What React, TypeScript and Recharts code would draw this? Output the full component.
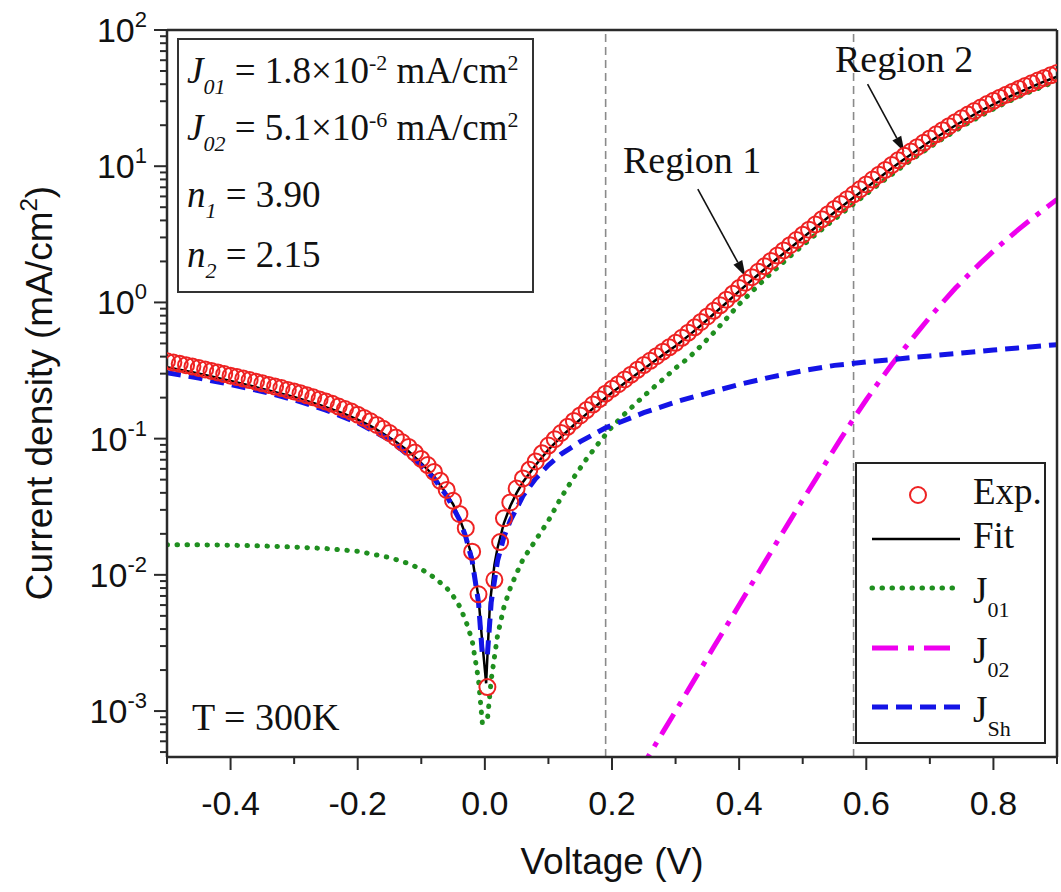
import React from 'react';
import { ComposedChart, Line, XAxis, YAxis, ReferenceLine } from 'recharts';

// measured J-V (circles), |J| in mA/cm2
const expVoltage = [
  -0.5, -0.49, -0.48, -0.47, -0.46, -0.45, -0.44, -0.43, -0.42, -0.41,
  -0.4, -0.39, -0.38, -0.37, -0.36, -0.35, -0.34, -0.33, -0.32, -0.31,
  -0.3, -0.29, -0.28, -0.27, -0.26, -0.25, -0.24, -0.23, -0.22, -0.21,
  -0.2, -0.19, -0.18, -0.17, -0.16, -0.15, -0.14, -0.13, -0.12, -0.11,
  -0.1, -0.09, -0.08, -0.07, -0.06, -0.05, -0.04, -0.03, -0.02, -0.01,
  0.004, 0.015, 0.024,
  0.03, 0.04, 0.05, 0.06, 0.07, 0.08, 0.09,
  0.1, 0.11, 0.12, 0.13, 0.14, 0.15, 0.16, 0.17, 0.18, 0.19,
  0.2, 0.21, 0.22, 0.23, 0.24, 0.25, 0.26, 0.27, 0.28, 0.29,
  0.3, 0.31, 0.32, 0.33, 0.34, 0.35, 0.36, 0.37, 0.38, 0.39,
  0.4, 0.41, 0.42, 0.43, 0.44, 0.45, 0.46, 0.47, 0.48, 0.49,
  0.5, 0.51, 0.52, 0.53, 0.54, 0.55, 0.56, 0.57, 0.58, 0.59,
  0.6, 0.61, 0.62, 0.63, 0.64, 0.65, 0.66, 0.67, 0.68, 0.69,
  0.7, 0.71, 0.72, 0.73, 0.74, 0.75, 0.76, 0.77, 0.78, 0.79,
  0.8, 0.81, 0.82, 0.83, 0.84, 0.85, 0.86, 0.87, 0.88, 0.89, 0.9,
];
const expCurrent = [
  0.37, 0.362, 0.354, 0.346, 0.338, 0.33, 0.322, 0.314, 0.306, 0.298,
  0.29, 0.283, 0.276, 0.269, 0.262, 0.255, 0.248, 0.241, 0.235, 0.228,
  0.222, 0.215, 0.208, 0.201, 0.194, 0.187, 0.18, 0.172, 0.165, 0.158,
  0.15, 0.142, 0.134, 0.126, 0.118, 0.11, 0.102, 0.094, 0.087, 0.079,
  0.071, 0.064, 0.057, 0.049, 0.042, 0.035, 0.028, 0.022, 0.0148, 0.0072,
  0.0015, 0.0092, 0.0174,
  0.026, 0.034, 0.043, 0.051, 0.059, 0.068, 0.078,
  0.089, 0.099, 0.11, 0.122, 0.135, 0.148, 0.162, 0.178, 0.195, 0.214,
  0.232, 0.251, 0.272, 0.295, 0.32, 0.347, 0.373, 0.403, 0.435, 0.468,
  0.505, 0.55, 0.6, 0.656, 0.719, 0.789, 0.867, 0.953, 1.047, 1.156,
  1.274, 1.396, 1.531, 1.679, 1.841, 2.018, 2.208, 2.41, 2.63, 2.871,
  3.133, 3.42, 3.733, 4.074, 4.446, 4.853, 5.272, 5.728, 6.223, 6.761,
  7.345, 7.98, 8.67, 9.397, 10.19, 11.04, 11.91, 12.82, 13.8, 14.86,
  16.0, 17.14, 18.37, 19.68, 21.04, 22.49, 23.93, 25.41, 26.98, 28.58,
  30.2, 31.84, 33.5, 35.24, 36.98, 38.81, 40.64, 42.56, 44.46, 46.45, 48.42,
];

// total fit
const fitVoltage = [
  -0.5, -0.48, -0.46, -0.44, -0.42, -0.4, -0.38, -0.36, -0.34, -0.32, -0.3, -0.28,
  -0.26, -0.24, -0.22, -0.2, -0.18, -0.16, -0.14, -0.12, -0.1, -0.08, -0.06,
  -0.05, -0.04, -0.03, -0.02, -0.01, -0.005, 0.002, 0.008, 0.015, 0.02, 0.03, 0.04, 0.05, 0.06,
  0.08, 0.1, 0.12, 0.14, 0.16, 0.18, 0.2, 0.22, 0.24, 0.26, 0.28, 0.3, 0.32, 0.34, 0.36, 0.38,
  0.4, 0.42, 0.44, 0.46, 0.48, 0.5, 0.52, 0.54, 0.56, 0.58, 0.6, 0.62, 0.64, 0.66, 0.68,
  0.7, 0.72, 0.74, 0.76, 0.78, 0.8, 0.82, 0.84, 0.86, 0.88, 0.9,
];
const fitCurrent = [
  0.335, 0.321, 0.307, 0.293, 0.279, 0.265, 0.252, 0.239, 0.226, 0.214, 0.202, 0.189,
  0.177, 0.164, 0.151, 0.138, 0.124, 0.109, 0.095, 0.081, 0.066, 0.053, 0.039,
  0.033, 0.026, 0.0195, 0.0135, 0.0068, 0.0036, 0.0016, 0.0062, 0.0118, 0.0158, 0.024, 0.032, 0.04, 0.048,
  0.064, 0.083, 0.103, 0.126, 0.152, 0.182, 0.218, 0.256, 0.301, 0.352, 0.412, 0.478, 0.568, 0.68, 0.822, 0.995,
  1.21, 1.46, 1.75, 2.1, 2.5, 2.98, 3.55, 4.22, 5.0, 5.9, 6.96, 8.2, 9.65, 11.3, 13.1,
  15.2, 17.4, 19.9, 22.6, 25.5, 28.5, 31.6, 34.9, 38.3, 41.9, 45.5,
];

// J01 diode component
const j01Voltage = [
  -0.5, -0.45, -0.4, -0.35, -0.3, -0.25, -0.2, -0.15, -0.12, -0.1, -0.08, -0.06,
  -0.05, -0.04, -0.03, -0.02, -0.01, -0.004, 0.004, 0.01, 0.02, 0.03, 0.04, 0.05, 0.06,
  0.08, 0.1, 0.12, 0.14, 0.16, 0.18, 0.2, 0.22, 0.24, 0.26, 0.28, 0.3, 0.32, 0.34, 0.36, 0.38,
  0.4, 0.42, 0.44, 0.46, 0.48, 0.5, 0.52, 0.54, 0.56, 0.58, 0.6, 0.62, 0.64, 0.66, 0.68,
  0.7, 0.72, 0.74, 0.76, 0.78, 0.8, 0.82, 0.84, 0.86, 0.88, 0.9,
];
const j01Current = [
  0.0166, 0.0166, 0.0165, 0.0163, 0.016, 0.0156, 0.0149, 0.0134, 0.0121, 0.011, 0.0096, 0.008,
  0.007, 0.0059, 0.0046, 0.0033, 0.0017, 0.00082, 0.00086, 0.0017, 0.0036, 0.0058, 0.008, 0.0103, 0.013,
  0.018, 0.025, 0.037, 0.052, 0.071, 0.094, 0.122, 0.152, 0.186, 0.226, 0.272, 0.33, 0.39, 0.48, 0.6, 0.76,
  0.97, 1.2, 1.48, 1.8, 2.18, 2.62, 3.14, 3.75, 4.45, 5.28, 6.25, 7.4, 8.7, 10.2, 11.9,
  13.8, 15.9, 18.2, 20.7, 23.4, 26.3, 29.3, 32.4, 35.6, 38.9, 42.3,
];

// J02 diode component
const j02Voltage = [
  0.24, 0.26, 0.28, 0.3, 0.32, 0.34, 0.36, 0.38, 0.4, 0.42, 0.44, 0.46, 0.48,
  0.5, 0.52, 0.54, 0.56, 0.58, 0.6, 0.62, 0.64, 0.66, 0.68, 0.7, 0.72, 0.74,
  0.76, 0.78, 0.8, 0.82, 0.84, 0.86, 0.88, 0.9,
];
const j02Current = [
  0.00034, 0.00049, 0.0007, 0.001, 0.00143, 0.00205, 0.00295, 0.0042, 0.006, 0.0086, 0.0123, 0.0176, 0.025,
  0.0355, 0.05, 0.071, 0.1, 0.14, 0.193, 0.262, 0.35, 0.46, 0.6, 0.78, 1.0, 1.27,
  1.58, 1.95, 2.38, 2.88, 3.45, 4.1, 4.85, 5.7,
];

// shunt component
const jshVoltage = [
  -0.5, -0.45, -0.4, -0.35, -0.3, -0.25, -0.2, -0.15, -0.1,
  -0.08, -0.06, -0.04, -0.03, -0.02, -0.01, -0.004,
  0.004, 0.01, 0.02, 0.03, 0.04, 0.06, 0.08, 0.1, 0.12, 0.15, 0.19,
  0.25, 0.3, 0.35, 0.4, 0.45, 0.5, 0.55, 0.6, 0.65, 0.7, 0.75, 0.8, 0.85, 0.9,
];
const jshCurrent = [
  0.305, 0.278, 0.25, 0.222, 0.193, 0.162, 0.131, 0.098, 0.063,
  0.051, 0.038, 0.0255, 0.019, 0.0127, 0.0063, 0.0026,
  0.0026, 0.0063, 0.0127, 0.019, 0.025, 0.038, 0.051, 0.064, 0.077, 0.095, 0.12,
  0.155, 0.186, 0.216, 0.25, 0.283, 0.315, 0.345, 0.365, 0.385, 0.405, 0.425, 0.447, 0.468, 0.49,
];

const xTicks = [-0.5, -0.4, -0.3, -0.2, -0.1, 0, 0.1, 0.2, 0.3, 0.4, 0.5, 0.6, 0.7, 0.8, 0.9];
const yDecades = [1e-4, 1e-3, 1e-2, 1e-1, 1, 10];
const yMin = 4.6e-4;
const yMax = 100;
const regionLimits = [0.19, 0.58];

const SERIF = '"Liberation Serif", "Times New Roman", serif';
const SANS = '"Liberation Sans", Arial, sans-serif';
const AXIS = '#2a2a2a';

const C_EXP = '#ee2222';
const C_FIT = '#000000';
const C_J01 = '#1f8f1f';
const C_J02 = '#ee00ee';
const C_JSH = '#1414e6';

const toPoints = (v: number[], j: number[]) => v.map((x, i) => ({ v: x, j: j[i] }));

const yTicks = yDecades
  .flatMap((d) => [1, 2, 3, 4, 5, 6, 7, 8, 9].map((m) => m * d))
  .filter((t) => t >= yMin)
  .concat([yMax]);

function XTick(props: any) {
  const { x, y, payload } = props;
  const v = payload.value as number;
  const major = Math.round(v * 10) % 2 === 0;
  return (
    <g>
      <line x1={x} x2={x} y1={y} y2={y + (major ? 13 : 7)} stroke={AXIS} strokeWidth={2} />
      {major && (
        <text x={x} y={y + 58} textAnchor="middle" fontFamily={SANS} fontSize={34} fill="#111">
          {v.toFixed(1)}
        </text>
      )}
    </g>
  );
}

function YTick(props: any) {
  const { x, y, payload } = props;
  const v = payload.value as number;
  const e = Math.round(Math.log10(v));
  const major = Math.abs(v / Math.pow(10, e) - 1) < 1e-6;
  return (
    <g>
      <line x1={x} x2={x - (major ? 13 : 7)} y1={y} y2={y} stroke={AXIS} strokeWidth={2} />
      {major && (
        <text x={x - 20} y={y + 12} textAnchor="end" fontFamily={SANS} fontSize={34} fill="#111">
          10
          <tspan dy={-15} fontSize={22}>{e}</tspan>
        </text>
      )}
    </g>
  );
}

function Arrow(props: any) {
  const { x1, y1, x2, y2 } = props;
  const a = Math.atan2(y2 - y1, x2 - x1);
  const L = 16;
  const Wd = 5;
  const bx = x2 - L * Math.cos(a);
  const by = y2 - L * Math.sin(a);
  const pts = [
    `${x2},${y2}`,
    `${bx - Wd * Math.sin(a)},${by + Wd * Math.cos(a)}`,
    `${bx + Wd * Math.sin(a)},${by - Wd * Math.cos(a)}`,
  ].join(' ');
  return (
    <g>
      <line x1={x1} y1={y1} x2={bx} y2={by} stroke="#111" strokeWidth={1.6} />
      <polygon points={pts} fill="#111" />
    </g>
  );
}

const legendItems = [
  { name: 'Exp.', sub: '', kind: 'circle', color: C_EXP, dash: '' },
  { name: 'Fit', sub: '', kind: 'line', color: C_FIT, dash: '' },
  { name: 'J', sub: '01', kind: 'line', color: C_J01, dash: '0.5 9.5' },
  { name: 'J', sub: '02', kind: 'line', color: C_J02, dash: '26 10 6 10' },
  { name: 'J', sub: 'Sh', kind: 'line', color: C_JSH, dash: '16 8' },
];
const legendRows = [495, 539, 588, 648, 707];

const t = { fontFamily: SERIF, fill: '#111', style: { whiteSpace: 'pre' as const } };

export default function App() {
  return (
    <div style={{ position: 'absolute', left: 0, top: 0, width: 1061, height: 892, background: '#fff' }}>
      <ComposedChart width={1061} height={892} margin={{ top: 0, right: 0, bottom: 0, left: 0 }}>
        <XAxis
          dataKey="v"
          type="number"
          domain={[-0.5, 0.9]}
          ticks={xTicks}
          tick={<XTick />}
          tickSize={0}
          tickMargin={0}
          tickLine={false}
          height={135}
          interval={0}
          allowDataOverflow
          axisLine={{ stroke: AXIS, strokeWidth: 2.5 }}
        />
        <XAxis
          xAxisId="top"
          orientation="top"
          type="number"
          domain={[-0.5, 0.9]}
          height={30}
          tick={false}
          tickLine={false}
          axisLine={{ stroke: AXIS, strokeWidth: 2.5 }}
        />
        <YAxis
          dataKey="j"
          scale="log"
          type="number"
          domain={[yMin, yMax]}
          ticks={yTicks}
          tick={<YTick />}
          tickSize={0}
          tickMargin={0}
          tickLine={false}
          interval={0}
          width={167}
          allowDataOverflow
          axisLine={{ stroke: AXIS, strokeWidth: 2.5 }}
        />
        <YAxis
          yAxisId="right"
          orientation="right"
          width={4}
          tick={false}
          tickLine={false}
          axisLine={{ stroke: AXIS, strokeWidth: 2.5 }}
        />

        {regionLimits.map((x) => (
          <ReferenceLine key={x} x={x} stroke="#8a8a8a" strokeWidth={1.6} strokeDasharray="8 5" />
        ))}

        <Line
          data={toPoints(expVoltage, expCurrent)}
          dataKey="j"
          name="Exp."
          stroke="none"
          dot={{ r: 8, stroke: C_EXP, strokeWidth: 2, fill: 'none' }}
          activeDot={false}
          isAnimationActive={false}
        />
        <Line
          data={toPoints(fitVoltage, fitCurrent)}
          dataKey="j"
          name="Fit"
          stroke={C_FIT}
          strokeWidth={2.5}
          dot={false}
          isAnimationActive={false}
        />
        <Line
          data={toPoints(j01Voltage, j01Current)}
          dataKey="j"
          name="J01"
          stroke={C_J01}
          strokeWidth={5}
          strokeDasharray="0.5 9.5"
          strokeLinecap="round"
          dot={false}
          isAnimationActive={false}
        />
        <Line
          data={toPoints(j02Voltage, j02Current)}
          dataKey="j"
          name="J02"
          stroke={C_J02}
          strokeWidth={5}
          strokeDasharray="24 9 5 9"
          dot={false}
          isAnimationActive={false}
        />
        <Line
          data={toPoints(jshVoltage, jshCurrent)}
          dataKey="j"
          name="JSh"
          stroke={C_JSH}
          strokeWidth={5}
          strokeDasharray="14 8"
          dot={false}
          isAnimationActive={false}
        />

        <ReferenceLine segment={[{ x: 0.335, y: 6.78 }, { x: 0.41, y: 1.55 }]} shape={Arrow} />
        <ReferenceLine segment={[{ x: 0.602, y: 40 }, { x: 0.66, y: 12.7 }]} shape={Arrow} />
      </ComposedChart>

      <svg width={1061} height={892} style={{ position: 'absolute', left: 0, top: 0, pointerEvents: 'none' }}>
        {/* axis titles */}
        <text x={612} y={874} textAnchor="middle" fontFamily={SANS} fontSize={37} fill="#111">
          Voltage (V)
        </text>
        <text
          x={52}
          y={393}
          transform="rotate(-90, 52, 393)"
          textAnchor="middle"
          fontFamily={SANS}
          fontSize={37}
          fill="#111"
        >
          Current density (mA/cm
          <tspan dy={-15} fontSize={24}>2</tspan>
          <tspan dy={15}>)</tspan>
        </text>

        {/* parameter box */}
        <rect x={178} y={39} width={355} height={253} fill="none" stroke="#333" strokeWidth={2} />
        <text x={187} y={83} fontSize={37} {...t}>
          <tspan fontStyle="italic">J</tspan>
          <tspan fontStyle="italic" fontSize={22} dy={11}>01</tspan>
          <tspan dy={-11}> = 1.8×10</tspan>
          <tspan fontSize={22} dy={-13}>-2</tspan>
          <tspan dy={13}> mA/cm</tspan>
          <tspan fontSize={22} dy={-13}>2</tspan>
        </text>
        <text x={187} y={140} fontSize={37} {...t}>
          <tspan fontStyle="italic">J</tspan>
          <tspan fontStyle="italic" fontSize={22} dy={11}>02</tspan>
          <tspan dy={-11}> = 5.1×10</tspan>
          <tspan fontSize={22} dy={-13}>-6</tspan>
          <tspan dy={13}> mA/cm</tspan>
          <tspan fontSize={22} dy={-13}>2</tspan>
        </text>
        <text x={187} y={207} fontSize={37} {...t}>
          <tspan fontStyle="italic">n</tspan>
          <tspan fontStyle="italic" fontSize={22} dy={11}>1</tspan>
          <tspan dy={-11}> = 3.90</tspan>
        </text>
        <text x={187} y={267} fontSize={37} {...t}>
          <tspan fontStyle="italic">n</tspan>
          <tspan fontStyle="italic" fontSize={22} dy={11}>2</tspan>
          <tspan dy={-11}> = 2.15</tspan>
        </text>

        {/* annotations */}
        <text x={623} y={173} fontSize={38} {...t}>Region 1</text>
        <text x={835} y={72} fontSize={38} {...t}>Region 2</text>
        <text x={192} y={730} fontSize={38} {...t}>T = 300K</text>

        {/* legend */}
        <rect x={856} y={463} width={189} height={280} fill="#fff" stroke="#222" strokeWidth={2} />
        {legendItems.map((it, i) => {
          const cy = legendRows[i];
          return (
            <g key={it.name + it.sub}>
              {it.kind === 'circle' ? (
                <circle cx={918} cy={cy} r={8} fill="none" stroke={it.color} strokeWidth={2} />
              ) : (
                <line
                  x1={872}
                  x2={960}
                  y1={cy}
                  y2={cy}
                  stroke={it.color}
                  strokeWidth={it.dash ? 5 : 2.5}
                  strokeDasharray={it.dash || undefined}
                  strokeLinecap={it.dash === '0.5 9.5' ? 'round' : 'butt'}
                />
              )}
              <text x={973} y={cy + (it.sub ? 15 : 9)} fontSize={37} {...t}>
                {it.name}
                {it.sub && (
                  <tspan fontSize={22} dy={14}>
                    {it.sub}
                  </tspan>
                )}
              </text>
            </g>
          );
        })}
      </svg>
    </div>
  );
}
